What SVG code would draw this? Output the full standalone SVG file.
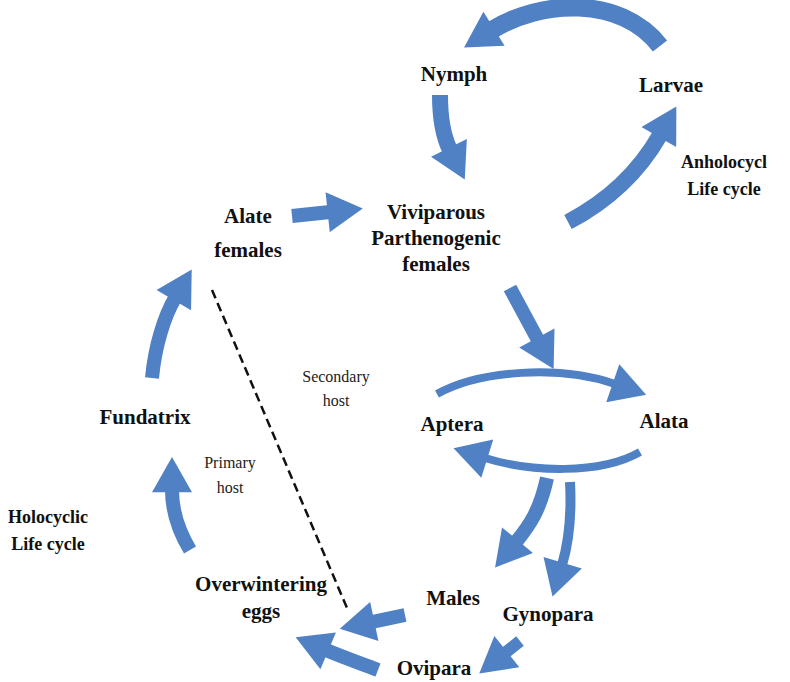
<svg xmlns="http://www.w3.org/2000/svg" width="790" height="682" viewBox="0 0 790 682">
<style>
.a{fill:none;stroke:#4f81c4;marker-end:url(#h)}
.t{font-family:"Liberation Serif",serif;font-weight:bold;font-size:21px;text-anchor:middle;fill:#111}
.s{font-family:"Liberation Serif",serif;font-size:16px;text-anchor:middle;fill:#222}
</style>
<defs>
<marker id="h" markerUnits="userSpaceOnUse" markerWidth="40" markerHeight="40" refX="2" refY="17" orient="auto" viewBox="0 0 30 34">
<path d="M0,0 L30,17 L0,34 Z" fill="#4f81c4"/>
</marker>
</defs>
<rect width="790" height="682" fill="#fff"/>
<g id="connectors">
<path class="a" stroke-width="18" d="M660,46 C620,-5 540,0 492,30"/>
<path class="a" stroke-width="16" d="M440,95 C440,120 444,138 450,150"/>
<path class="a" stroke-width="16" d="M568,222 C610,200 640,170 660,135"/>
<path class="a" stroke-width="14" d="M292,216 L330,212"/>
<path class="a" stroke-width="14" d="M510,288 L538,340"/>
<path class="a" stroke-width="8" d="M437,394 C480,370 560,365 615,384"/>
<path class="a" stroke-width="8" d="M640,452 C600,475 530,472 485,458"/>
<path class="a" stroke-width="14" d="M547,478 C540,510 530,525 516,542"/>
<path class="a" stroke-width="10" d="M570,482 C572,520 568,545 562,565"/>
<path class="a" stroke-width="12" d="M520,641 L505,653"/>
<path class="a" stroke-width="14" d="M405,615 L372,622"/>
<path class="a" stroke-width="14" d="M378,670 C360,663 345,658 326,650"/>
<path class="a" stroke-width="14" d="M190,550 C178,530 172,510 172,490"/>
<path class="a" stroke-width="14" d="M152,378 C155,345 165,315 175,298"/>
<path d="M212,290 L347,608" stroke="#111" stroke-width="2.5" stroke-dasharray="9,5" fill="none"/>
</g>
<g id="nymph"><text class="t" x="454" y="81">Nymph</text></g>
<g id="larvae"><text class="t" x="671" y="92">Larvae</text></g>
<g id="anholocyclic"><text class="t" x="724" y="168" style="font-size:18px">Anholocycl</text><text class="t" x="724" y="195" style="font-size:18px">Life cycle</text></g>
<g id="alate-females"><text class="t" x="248" y="223">Alate</text><text class="t" x="248" y="257">females</text></g>
<g id="viviparous"><text class="t" x="436" y="219">Viviparous</text><text class="t" x="436" y="245">Parthenogenic</text><text class="t" x="436" y="271">females</text></g>
<g id="secondary-host"><text class="s" x="336" y="382">Secondary</text><text class="s" x="336" y="406">host</text></g>
<g id="aptera"><text class="t" x="452" y="431">Aptera</text></g>
<g id="alata"><text class="t" x="664" y="428">Alata</text></g>
<g id="fundatrix"><text class="t" x="145" y="424">Fundatrix</text></g>
<g id="primary-host"><text class="s" x="230" y="468">Primary</text><text class="s" x="230" y="493">host</text></g>
<g id="holocyclic"><text class="t" x="48" y="523" style="font-size:18px">Holocyclic</text><text class="t" x="48" y="550" style="font-size:18px">Life cycle</text></g>
<g id="eggs"><text class="t" x="261" y="591">Overwintering</text><text class="t" x="261" y="618">eggs</text></g>
<g id="males"><text class="t" x="453" y="605">Males</text></g>
<g id="gynopara"><text class="t" x="548" y="621">Gynopara</text></g>
<g id="ovipara"><text class="t" x="434" y="675">Ovipara</text></g>
</svg>
